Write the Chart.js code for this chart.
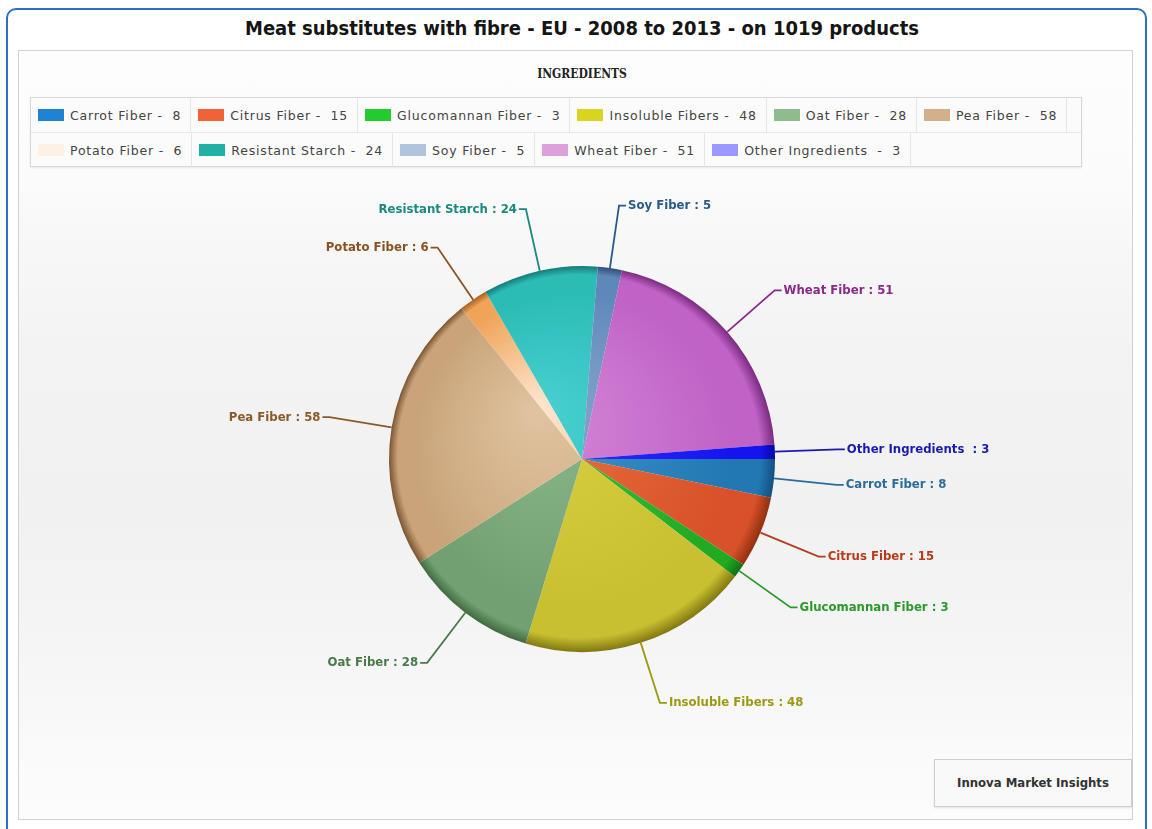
<!DOCTYPE html>
<html>
<head>
<meta charset="utf-8">
<script src="https://cdn.jsdelivr.net/npm/chart.js@4/dist/chart.umd.min.js"></script>
<style>
  body { margin: 0; width: 1152px; height: 829px; overflow: hidden; background: #fff; position: relative; font-family: 'DejaVu Sans', sans-serif; }
  #frame { position: absolute; left: 6px; top: 8px; width: 1137px; height: 840px; border: 2px solid #2f6fc2; border-radius: 10px; }
  #title { position: absolute; left: 0; top: 16px; width: 1164px; text-align: center; font: bold 20px 'DejaVu Sans Condensed', sans-serif; color: #151515; }
  #panel { position: absolute; left: 18px; top: 50px; width: 1113px; height: 768px; border: 1px solid #d2d2d2;
    background: linear-gradient(#fdfdfd 0px, #fbfbfb 130px, #f7f7f7 200px, #f3f3f3 300px, #f1f1f1 460px, #f5f5f5 600px, #fafafa 700px, #fcfcfc 768px); }
  #ingr { position: absolute; left: 482px; top: 67px; width: 200px; text-align: center; font: bold 12px 'DejaVu Serif Condensed', serif; color: #222; }
  #legend { position: absolute; left: 30px; top: 97px; width: 1050px; height: 68px; border: 1px solid #d8d8d8; background: #fbfbfb; box-shadow: 0 1px 2px rgba(0,0,0,0.08); }
  .row { display: flex; height: 34px; align-items: center; }
  .row + .row { border-top: 1px solid #e8e8e8; }
  .item { display: flex; align-items: center; padding: 0 9px 0 7px; height: 100%; border-right: 1px solid #e6e6e6; white-space: pre; font-size: 12.5px; letter-spacing: 0.8px; color: #444; }
  .sw { width: 26px; height: 12px; margin-right: 6px; }
  #credit { position: absolute; left: 934px; top: 759px; width: 196px; height: 46px; border: 1px solid #cfcfcf; background: #f9f9f9;
    box-shadow: 0 1px 2px rgba(0,0,0,0.1); font: bold 13px 'DejaVu Sans Condensed', sans-serif; color: #333; line-height: 46px; text-align: center; }
  #c { position: absolute; left: 0; top: 0; }
</style>
</head>
<body>
<div id="frame"></div>
<div id="title">Meat substitutes with fibre - EU - 2008 to 2013 - on 1019 products</div>
<div id="panel"></div>
<div id="ingr">INGREDIENTS</div>
<div id="legend"></div>
<div id="credit">Innova Market Insights</div>
<canvas id="c" width="1152" height="829"></canvas>
<script>
const categories = ['Carrot Fiber', 'Citrus Fiber', 'Glucomannan Fiber', 'Insoluble Fibers', 'Oat Fiber', 'Pea Fiber',
  'Potato Fiber', 'Resistant Starch', 'Soy Fiber', 'Wheat Fiber', 'Other Ingredients '];
const values = [8, 15, 3, 48, 28, 58, 6, 24, 5, 51, 3];
const legendColors = ['#1f82d2', '#f06238', '#22cc2e', '#d8d420', '#8fbc8f', '#d2b08a', '#fdf1e6', '#20b0a6', '#b0c4de', '#dda0dd', '#9999ff'];
const sliceColors = ['#2278b2', '#d8512a', '#22aa22', '#c8c030', '#72a072', '#c9a47a', '#f0a458', '#2cbcb6', '#5f88ba', '#c062c6', '#1414f0'];
const sliceLights = ['#3d94c8', '#e8703e', '#40c040', '#d8d040', '#8ab88a', '#e0c4a0', '#fde8d4', '#48d0d0', '#88a8cc', '#d488d8', '#3434ff'];
const sliceDarks = ['#135080', '#90300f', '#127012', '#807810', '#3f6a3f', '#7a5430', '#a86020', '#147a76', '#30507a', '#7a2a80', '#0808a0'];
const labelColors = ['#2a6c9c', '#b83a18', '#2a9a2a', '#9a9a12', '#4a7a4a', '#8a5a28', '#8a5220', '#1a8a7c', '#2a5a8a', '#8a2a8a', '#1a1ab0'];
const rows = [[0, 1, 2, 3, 4, 5], [6, 7, 8, 9, 10]];

// html legend
const legendEl = document.getElementById('legend');
rows.forEach(r => {
  const row = document.createElement('div');
  row.className = 'row';
  r.forEach(i => {
    const it = document.createElement('div');
    it.className = 'item';
    it.innerHTML = `<span class="sw" style="background:${legendColors[i]}"></span>${categories[i]} -  ${values[i]}`;
    row.appendChild(it);
  });
  legendEl.appendChild(row);
});

const shade = (ctx) => {
  const chart = ctx.chart;
  const a = chart.chartArea;
  const i = ctx.dataIndex;
  if (!a) return sliceColors[i];
  const cx = (a.left + a.right) / 2, cy = (a.top + a.bottom) / 2;
  const r = Math.min(a.right - a.left, a.bottom - a.top) / 2;
  const g = chart.ctx.createRadialGradient(cx - r * 0.25, cy - r * 0.25, 0, cx, cy, r);
  g.addColorStop(0, sliceLights[i]);
  g.addColorStop(0.82, sliceColors[i]);
  g.addColorStop(0.94, sliceColors[i]);
  g.addColorStop(1, sliceDarks[i]);
  return g;
};

const leaderLabels = {
  id: 'leaderLabels',
  afterDatasetsDraw(chart) {
    const c = chart.ctx;
    const meta = chart.getDatasetMeta(0);
    c.save();
    c.font = "bold 13px 'DejaVu Sans Condensed', sans-serif";
    c.textBaseline = 'middle';
    c.lineWidth = 1.8;
    meta.data.forEach((arc, i) => {
      const mid = (arc.startAngle + arc.endAngle) / 2;
      const r = arc.outerRadius;
      const x0 = arc.x + Math.cos(mid) * r, y0 = arc.y + Math.sin(mid) * r;
      const x1 = arc.x + Math.cos(mid) * (r + 63), y1 = arc.y + Math.sin(mid) * (r + 63);
      const right = Math.cos(mid) >= 0;
      const x2 = x1 + (right ? 7 : -7);
      c.strokeStyle = labelColors[i];
      c.beginPath();
      c.moveTo(x0, y0); c.lineTo(x1, y1); c.lineTo(x2, y1);
      c.stroke();
      c.fillStyle = labelColors[i];
      c.textAlign = right ? 'left' : 'right';
      c.fillText(`${categories[i]} : ${values[i]}`, x2 + (right ? 2 : -2), y1);
    });
    c.restore();
  }
};

new Chart(document.getElementById('c'), {
  type: 'pie',
  data: {
    labels: categories,
    datasets: [{
      data: values,
      backgroundColor: shade,
      borderWidth: 0
    }]
  },
  options: {
    responsive: false,
    animation: false,
    rotation: 90,
    layout: { padding: { left: 389, right: 377, top: 266, bottom: 177 } },
    plugins: { legend: { display: false }, tooltip: { enabled: false } }
  },
  plugins: [leaderLabels]
});
</script>
</body>
</html>
